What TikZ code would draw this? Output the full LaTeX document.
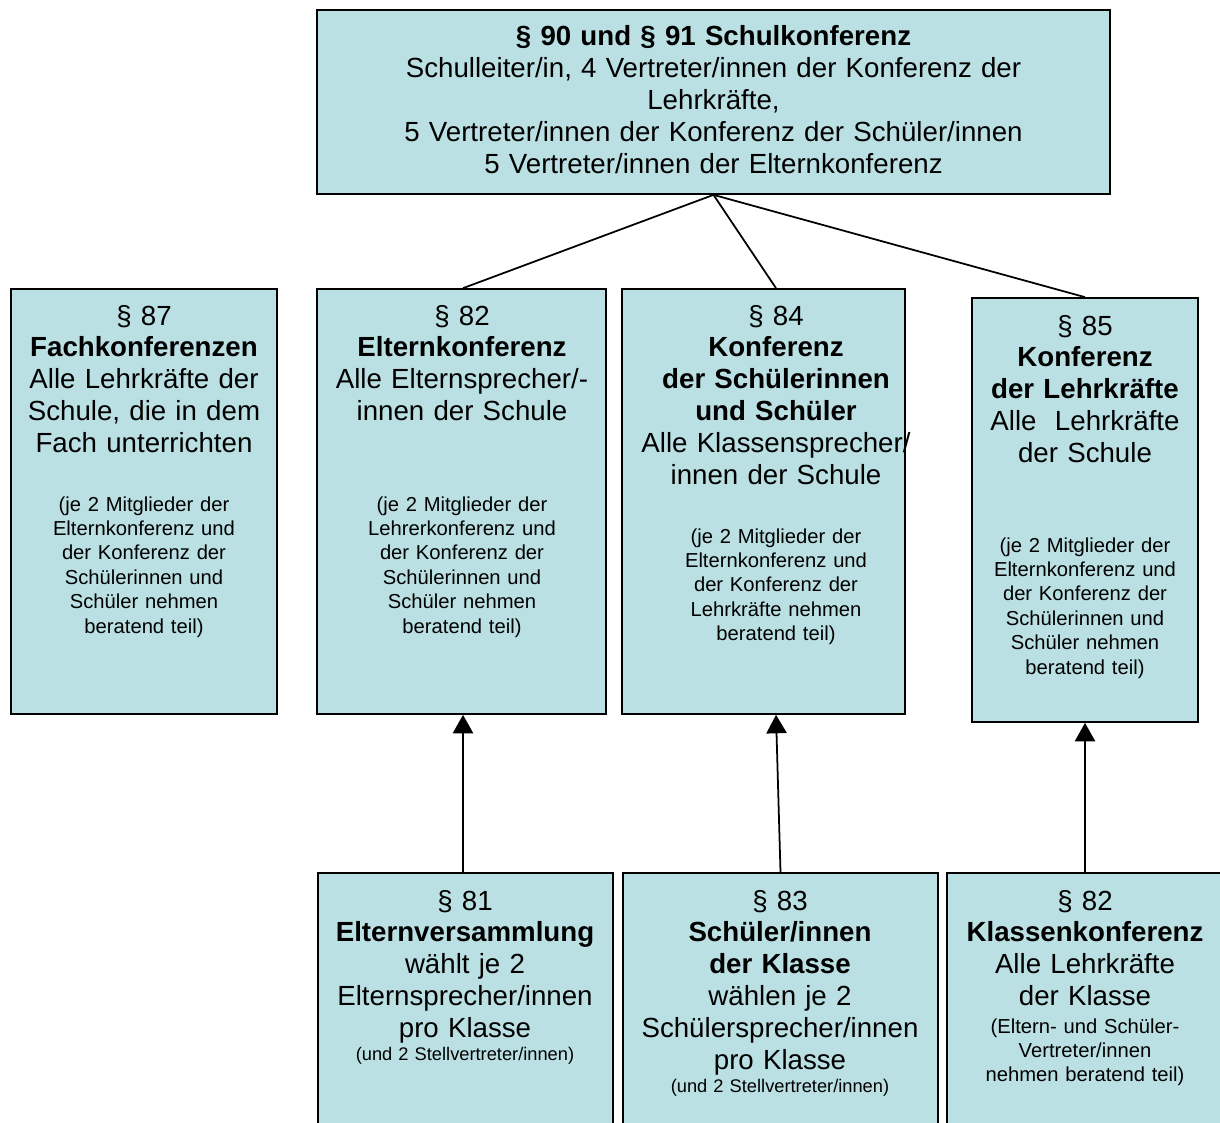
\documentclass[tikz,border=0pt]{standalone}
\usepackage{fontspec}
\setmainfont{Liberation Sans}
\usepackage{xcolor}
\usepackage{tikz}
\usetikzlibrary{arrows.meta, positioning}

\definecolor{boxfill}{RGB}{186,224,227}

\begin{document}
\begin{tikzpicture}[
            x=0.02cm, y=-0.02cm,              % one unit = one pixel of the layout
            >={Triangle[width=11.5pt,length=10.5pt]}, % arrow tip style
            line width=1pt,
            box/.style={draw, fill=boxfill, line width=1pt, inner sep=0pt},
            head/.style={anchor=base, inner sep=0pt, text width=7cm, align=center,
                         font=\fontsize{15.75}{18.2}\selectfont},
            note/.style={head, font=\fontsize{11.5}{13.9}\selectfont},
            tiny/.style={head, font=\fontsize{10.4}{12}\selectfont}
          ]
          \useasboundingbox (0,0) rectangle (1220,1122);

          % boxes
          \node[box, minimum width=15.86cm, minimum height=3.68cm] (sk) at (713.5,102) {};
          \node[box, minimum width=5.32cm, minimum height=8.5cm] (fk) at (144,501.5) {};
          \node[box, minimum width=5.78cm, minimum height=8.5cm] (ek) at (461.5,501.5) {};
          \node[box, minimum width=5.66cm, minimum height=8.5cm] (sr) at (763.5,501.5) {};
          \node[box, minimum width=4.52cm, minimum height=8.48cm] (lk) at (1085,510) {};
          \node[box, minimum width=5.9cm, minimum height=5.34cm] (ev) at (465.5,1006.5) {};
          \node[box, minimum width=6.3cm, minimum height=5.34cm] (sv) at (780.5,1006.5) {};
          \node[box, minimum width=5.96cm, minimum height=5.34cm] (kk) at (1096,1006.5) {};

          % texts
          \node[head, text width=15cm] at (713.5,46) {\textbf{§ 90 und § 91 Schulkonferenz}\\
            Schulleiter/in, 4 Vertreter/innen der Konferenz der\\ Lehrkräfte,\\
            5 Vertreter/innen der Konferenz der Schüler/innen\\
            5 Vertreter/innen der Elternkonferenz};

          \node[head] at (144,325) {§ 87\\ \textbf{Fachkonferenzen}\\ Alle Lehrkräfte der\\
            Schule, die in dem\\ Fach unterrichten};
          \node[note] at (144,511) {(je 2 Mitglieder der\\ Elternkonferenz und\\ der Konferenz der\\
            Schülerinnen und\\ Schüler nehmen\\ beratend teil)};

          \node[head] at (462,325) {§ 82\\ \textbf{Elternkonferenz}\\ Alle Elternsprecher/-\\
            innen der Schule};
          \node[note] at (462,511) {(je 2 Mitglieder der\\ Lehrerkonferenz und\\ der Konferenz der\\
            Schülerinnen und\\ Schüler nehmen\\ beratend teil)};

          \node[head] at (776,325) {§ 84\\ \textbf{Konferenz}\\ \textbf{der Schülerinnen}\\
            \textbf{und Schüler}\\ Alle Klassensprecher/\\ innen der Schule};
          \node[note] at (776,543) {(je 2 Mitglieder der\\ Elternkonferenz und\\ der Konferenz der\\
            Lehrkräfte nehmen\\ beratend teil)};

          \node[head] at (1085,335) {§ 85\\ \textbf{Konferenz}\\ \textbf{der Lehrkräfte}\\
            Alle\ \ Lehrkräfte\\ der Schule};
          \node[note] at (1085,552) {(je 2 Mitglieder der\\ Elternkonferenz und\\ der Konferenz der\\
            Schülerinnen und\\ Schüler nehmen\\ beratend teil)};

          \node[head] at (465,910) {§ 81\\ \textbf{Elternversammlung}\\ wählt je 2\\
            Elternsprecher/innen\\ pro Klasse};
          \node[tiny] at (465,1060) {(und 2 Stellvertreter/innen)};

          \node[head] at (780,910) {§ 83\\ \textbf{Schüler/innen}\\ \textbf{der Klasse}\\
            wählen je 2\\ Schülersprecher/innen\\ pro Klasse};
          \node[tiny] at (780,1092) {(und 2 Stellvertreter/innen)};

          \node[head] at (1085,910) {§ 82\\ \textbf{Klassenkonferenz}\\ Alle Lehrkräfte\\ der Klasse};
          \node[note] at (1085,1033) {(Eltern- und Schüler-\\ Vertreter/innen\\ nehmen beratend teil)};

          % connectors
          \draw (sk.south) -- ([xshift=0.03cm]ek.north);
          \draw (sk.south) -- ([xshift=0.25cm]sr.north);
          \draw (sk.south) -- (lk.north);

          \draw[->] ([xshift=-0.05cm]ev.north) -- ([xshift=0.03cm]ek.south);
          \draw[->] (sv.north) -- ([xshift=0.25cm]sr.south);
          \draw[->] ([xshift=-0.22cm]kk.north) -- (lk.south);
        \end{tikzpicture}
\end{document}
